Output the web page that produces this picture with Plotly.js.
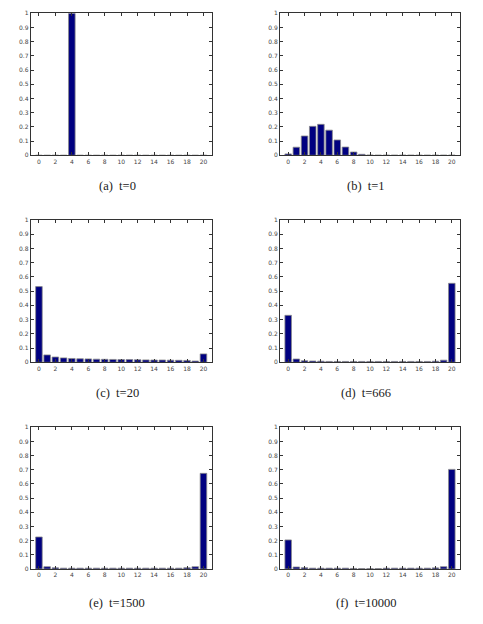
<!DOCTYPE html>
<html>
<head>
<meta charset="utf-8">
<script src="https://cdn.plot.ly/plotly-3.0.1.min.js"></script>
<style>
  html, body { margin:0; padding:0; background:#fff; }
  #chart { width:483px; height:624px; }
</style>
</head>
<body>
<div id="chart"></div>
<script>

/* ==========================================
   DATA
========================================== */

const states = [0,1,2,3,4,5,6,7,8,9,10,11,12,13,14,15,16,17,18,19,20];

const probT0 = [0,0,0,0,1,0,0,0,0,0,0,0,0,0,0,0,0,0,0,0,0];

const probT1 = [0.010,0.057,0.136,0.204,0.218,0.177,0.108,0.058,0.023,0.007,0.002,
                0.001,0.001,0.001,0.001,0.001,0.001,0.001,0.001,0.001,0.001];

const probT20 = [0.532,0.052,0.037,0.031,0.027,0.025,0.024,0.022,0.021,0.020,0.019,
                 0.019,0.018,0.017,0.016,0.016,0.015,0.014,0.013,0.009,0.059];

const probT666 = [0.330,0.023,0.011,0.009,0.008,0.006,0.006,0.006,0.006,0.006,0.006,
                  0.006,0.006,0.006,0.006,0.006,0.006,0.006,0.008,0.015,0.555];

const probT1500 = [0.226,0.016,0.008,0.006,0.006,0.006,0.006,0.006,0.006,0.006,0.006,
                   0.006,0.006,0.006,0.006,0.006,0.006,0.006,0.009,0.016,0.675];

const probT10000 = [0.205,0.014,0.009,0.006,0.006,0.006,0.006,0.006,0.004,0.003,0.003,
                    0.003,0.006,0.006,0.006,0.006,0.006,0.006,0.008,0.016,0.703];

const captions = ["(a)  t=0","(b)  t=1","(c)  t=20","(d)  t=666","(e)  t=1500","(f)  t=10000"];

const series = [probT0, probT1, probT20, probT666, probT1500, probT10000];

const xTicks = [0,2,4,6,8,10,12,14,16,18,20];


/* ==========================================
   LAYOUT HELPERS
========================================== */

const W = 483, H = 624;

const colDomains = [
    [30.7/W, 211.7/W],
    [280/W, 460/W]
];

// top, bottom in pixels for each row
const rowPx = [
    [13.3, 155.3],
    [220, 362.3],
    [427.3, 569]
];

const captionY = [186, 393, 603];

const captionX = [117, 366];

function axisStyle(){

    return {
        showline:true,
        linecolor:"#333",
        linewidth:1,
        mirror:"ticks",
        ticks:"inside",
        ticklen:3,
        tickcolor:"#333",
        showgrid:false,
        zeroline:false,
        tickfont:{family:"DejaVu Sans, Arial", size:6, color:"#444"}
    };

}


/* ==========================================
   BUILD
========================================== */

let traces = [];

let layout = {
    width:W,
    height:H,
    margin:{l:0, r:0, t:0, b:0},
    paper_bgcolor:"#fff",
    plot_bgcolor:"#fff",
    showlegend:false,
    bargap:0.2,
    annotations:[]
};

series.forEach((vals, i)=>{

    const row = Math.floor(i/2);

    const col = i % 2;

    const n = i + 1;

    const xa = n === 1 ? "x" : "x" + n;

    const ya = n === 1 ? "y" : "y" + n;

    traces.push({
        type:"bar",
        x:states,
        y:vals,
        xaxis:xa,
        yaxis:ya,
        width:0.8,
        marker:{
            color:"#000080",
            line:{color:"#8a8a8a", width:0.8}
        },
        hoverinfo:"x+y"
    });

    const xKey = n === 1 ? "xaxis" : "xaxis" + n;

    const yKey = n === 1 ? "yaxis" : "yaxis" + n;

    layout[xKey] = Object.assign(axisStyle(), {
        domain:colDomains[col],
        anchor:ya,
        range:[-1, 21],
        tickvals:xTicks,
        ticktext:xTicks.map(String)
    });

    layout[yKey] = Object.assign(axisStyle(), {
        domain:[1 - rowPx[row][1]/H, 1 - rowPx[row][0]/H],
        anchor:xa,
        range:[0, 1],
        dtick:0.1,
        tick0:0
    });

    layout.annotations.push({
        text:captions[i],
        xref:"paper",
        yref:"paper",
        x:captionX[col]/W,
        y:1 - captionY[row]/H,
        xanchor:"center",
        yanchor:"middle",
        showarrow:false,
        font:{family:"Liberation Serif, Noto Sans CJK SC, serif", size:12.5, color:"#222"}
    });

});

Plotly.newPlot("chart", traces, layout, {displayModeBar:false, responsive:false});

</script>
</body>
</html>
